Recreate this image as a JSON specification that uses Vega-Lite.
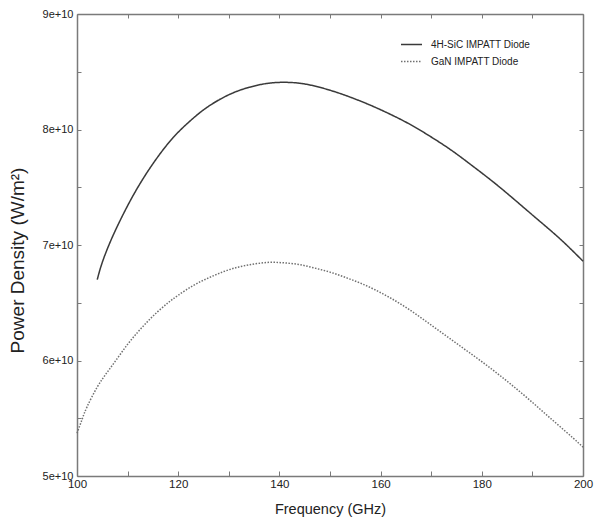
{
  "$schema": "https://vega.github.io/schema/vega-lite/v6.json",
  "width": 506,
  "height": 462,
  "autosize": {"type": "none"},
  "padding": {"left": 77, "top": 14, "right": 14, "bottom": 45},
  "background": "white",
  "config": {
    "view": {"stroke": null},
    "axis": {
      "domainColor": "#7a7a7a",
      "domainWidth": 1.5,
      "tickColor": "#7a7a7a",
      "tickWidth": 1,
      "grid": false,
      "labelFont": "Liberation Sans",
      "labelFontSize": 11.5,
      "labelColor": "#222222",
      "titleColor": "#222222",
      "titleFontWeight": "normal"
    }
  },
  "data": {
    "values": [
      {"freq": 104, "density": 6.70e10, "diode": "4H-SiC IMPATT Diode"},
      {"freq": 105, "density": 6.85e10, "diode": "4H-SiC IMPATT Diode"},
      {"freq": 107, "density": 7.07e10, "diode": "4H-SiC IMPATT Diode"},
      {"freq": 110, "density": 7.34e10, "diode": "4H-SiC IMPATT Diode"},
      {"freq": 113, "density": 7.57e10, "diode": "4H-SiC IMPATT Diode"},
      {"freq": 116, "density": 7.765e10, "diode": "4H-SiC IMPATT Diode"},
      {"freq": 119, "density": 7.93e10, "diode": "4H-SiC IMPATT Diode"},
      {"freq": 122, "density": 8.06e10, "diode": "4H-SiC IMPATT Diode"},
      {"freq": 125, "density": 8.17e10, "diode": "4H-SiC IMPATT Diode"},
      {"freq": 128, "density": 8.255e10, "diode": "4H-SiC IMPATT Diode"},
      {"freq": 131, "density": 8.32e10, "diode": "4H-SiC IMPATT Diode"},
      {"freq": 134, "density": 8.365e10, "diode": "4H-SiC IMPATT Diode"},
      {"freq": 137, "density": 8.395e10, "diode": "4H-SiC IMPATT Diode"},
      {"freq": 140, "density": 8.408e10, "diode": "4H-SiC IMPATT Diode"},
      {"freq": 143, "density": 8.405e10, "diode": "4H-SiC IMPATT Diode"},
      {"freq": 146, "density": 8.386e10, "diode": "4H-SiC IMPATT Diode"},
      {"freq": 150, "density": 8.34e10, "diode": "4H-SiC IMPATT Diode"},
      {"freq": 154, "density": 8.28e10, "diode": "4H-SiC IMPATT Diode"},
      {"freq": 158, "density": 8.21e10, "diode": "4H-SiC IMPATT Diode"},
      {"freq": 162, "density": 8.13e10, "diode": "4H-SiC IMPATT Diode"},
      {"freq": 166, "density": 8.04e10, "diode": "4H-SiC IMPATT Diode"},
      {"freq": 170, "density": 7.935e10, "diode": "4H-SiC IMPATT Diode"},
      {"freq": 174, "density": 7.82e10, "diode": "4H-SiC IMPATT Diode"},
      {"freq": 178, "density": 7.69e10, "diode": "4H-SiC IMPATT Diode"},
      {"freq": 182, "density": 7.555e10, "diode": "4H-SiC IMPATT Diode"},
      {"freq": 186, "density": 7.41e10, "diode": "4H-SiC IMPATT Diode"},
      {"freq": 190, "density": 7.26e10, "diode": "4H-SiC IMPATT Diode"},
      {"freq": 194, "density": 7.11e10, "diode": "4H-SiC IMPATT Diode"},
      {"freq": 197, "density": 6.99e10, "diode": "4H-SiC IMPATT Diode"},
      {"freq": 200, "density": 6.86e10, "diode": "4H-SiC IMPATT Diode"},
      {"freq": 100, "density": 5.37e10, "diode": "GaN IMPATT Diode"},
      {"freq": 101, "density": 5.49e10, "diode": "GaN IMPATT Diode"},
      {"freq": 102, "density": 5.60e10, "diode": "GaN IMPATT Diode"},
      {"freq": 104, "density": 5.77e10, "diode": "GaN IMPATT Diode"},
      {"freq": 106, "density": 5.90e10, "diode": "GaN IMPATT Diode"},
      {"freq": 108, "density": 6.02e10, "diode": "GaN IMPATT Diode"},
      {"freq": 110, "density": 6.14e10, "diode": "GaN IMPATT Diode"},
      {"freq": 112, "density": 6.245e10, "diode": "GaN IMPATT Diode"},
      {"freq": 114, "density": 6.34e10, "diode": "GaN IMPATT Diode"},
      {"freq": 116, "density": 6.425e10, "diode": "GaN IMPATT Diode"},
      {"freq": 118, "density": 6.50e10, "diode": "GaN IMPATT Diode"},
      {"freq": 120, "density": 6.565e10, "diode": "GaN IMPATT Diode"},
      {"freq": 123, "density": 6.65e10, "diode": "GaN IMPATT Diode"},
      {"freq": 126, "density": 6.715e10, "diode": "GaN IMPATT Diode"},
      {"freq": 129, "density": 6.77e10, "diode": "GaN IMPATT Diode"},
      {"freq": 132, "density": 6.81e10, "diode": "GaN IMPATT Diode"},
      {"freq": 135, "density": 6.835e10, "diode": "GaN IMPATT Diode"},
      {"freq": 138, "density": 6.85e10, "diode": "GaN IMPATT Diode"},
      {"freq": 141, "density": 6.845e10, "diode": "GaN IMPATT Diode"},
      {"freq": 144, "density": 6.83e10, "diode": "GaN IMPATT Diode"},
      {"freq": 147, "density": 6.80e10, "diode": "GaN IMPATT Diode"},
      {"freq": 150, "density": 6.765e10, "diode": "GaN IMPATT Diode"},
      {"freq": 153, "density": 6.72e10, "diode": "GaN IMPATT Diode"},
      {"freq": 156, "density": 6.67e10, "diode": "GaN IMPATT Diode"},
      {"freq": 159, "density": 6.61e10, "diode": "GaN IMPATT Diode"},
      {"freq": 162, "density": 6.54e10, "diode": "GaN IMPATT Diode"},
      {"freq": 165, "density": 6.46e10, "diode": "GaN IMPATT Diode"},
      {"freq": 168, "density": 6.37e10, "diode": "GaN IMPATT Diode"},
      {"freq": 171, "density": 6.275e10, "diode": "GaN IMPATT Diode"},
      {"freq": 174, "density": 6.18e10, "diode": "GaN IMPATT Diode"},
      {"freq": 177, "density": 6.085e10, "diode": "GaN IMPATT Diode"},
      {"freq": 180, "density": 5.99e10, "diode": "GaN IMPATT Diode"},
      {"freq": 183, "density": 5.89e10, "diode": "GaN IMPATT Diode"},
      {"freq": 186, "density": 5.785e10, "diode": "GaN IMPATT Diode"},
      {"freq": 189, "density": 5.675e10, "diode": "GaN IMPATT Diode"},
      {"freq": 192, "density": 5.56e10, "diode": "GaN IMPATT Diode"},
      {"freq": 195, "density": 5.445e10, "diode": "GaN IMPATT Diode"},
      {"freq": 198, "density": 5.33e10, "diode": "GaN IMPATT Diode"},
      {"freq": 200, "density": 5.25e10, "diode": "GaN IMPATT Diode"}
    ]
  },
  "layer": [
    {
      "mark": {"type": "line", "strokeWidth": 1.5, "interpolate": "natural"},
      "encoding": {
        "x": {
          "field": "freq",
          "type": "quantitative",
          "scale": {"domain": [100, 200], "nice": false, "zero": false},
          "axis": {
            "orient": "bottom",
            "values": [100, 110, 120, 130, 140, 150, 160, 170, 180, 190, 200],
            "labelExpr": "datum.value % 20 === 0 ? datum.label : ''",
            "labelFlush": false,
            "labelOverlap": false,
            "tickSize": -5,
            "labelPadding": 7,
            "title": "Frequency (GHz)",
            "titleFont": "Liberation Sans",
            "titleFontSize": 14.5,
            "titleX": 253,
            "titleY": 37,
            "titleAlign": "center",
            "titleBaseline": "alphabetic"
          }
        },
        "y": {
          "field": "density",
          "type": "quantitative",
          "scale": {"domain": [5e10, 9e10], "nice": false, "zero": false},
          "axis": {
            "orient": "left",
            "values": [5e10, 5.5e10, 6e10, 6.5e10, 7e10, 7.5e10, 8e10, 8.5e10, 9e10],
            "labelExpr": "datum.value % 1e10 === 0 ? (datum.value / 1e10) + 'e+10' : ''",
            "labelOverlap": false,
            "labelFontSize": 11,
            "tickSize": -4,
            "labelPadding": 8,
            "title": "Power Density (W/m²)",
            "titleFont": "Liberation Sans",
            "titleFontSize": 19,
            "titleAngle": -90,
            "titleX": -54,
            "titleY": 246,
            "titleAlign": "center",
            "titleBaseline": "alphabetic"
          }
        },
        "color": {
          "field": "diode",
          "type": "nominal",
          "scale": {"domain": ["4H-SiC IMPATT Diode", "GaN IMPATT Diode"], "range": ["#3a3a3a", "#707070"]},
          "legend": {
            "orient": "none",
            "legendX": 323,
            "legendY": 19,
            "title": null,
            "symbolType": "stroke",
            "symbolSize": 441,
            "symbolStrokeWidth": 1.3,
            "labelFont": "Liberation Sans",
            "labelFontSize": 10,
            "labelColor": "#222222",
            "labelOffset": 8,
            "rowPadding": -2,
            "padding": 0
          }
        },
        "strokeDash": {
          "field": "diode",
          "type": "nominal",
          "scale": {"domain": ["4H-SiC IMPATT Diode", "GaN IMPATT Diode"], "range": [[1, 0], [1.5, 1.5]]},
          "legend": null
        }
      }
    },
    {
      "mark": {"type": "line", "opacity": 0},
      "encoding": {
        "x": {
          "field": "freq",
          "type": "quantitative",
          "axis": {
            "orient": "top",
            "values": [100, 110, 120, 130, 140, 150, 160, 170, 180, 190, 200],
            "labels": false,
            "tickSize": -4,
            "title": null
          }
        },
        "y": {
          "field": "density",
          "type": "quantitative",
          "axis": {
            "orient": "right",
            "values": [5e10, 5.5e10, 6e10, 6.5e10, 7e10, 7.5e10, 8e10, 8.5e10, 9e10],
            "labels": false,
            "tickSize": -4,
            "title": null
          }
        },
        "detail": {"field": "diode", "type": "nominal"}
      }
    }
  ],
  "resolve": {"axis": {"x": "independent", "y": "independent"}}
}
